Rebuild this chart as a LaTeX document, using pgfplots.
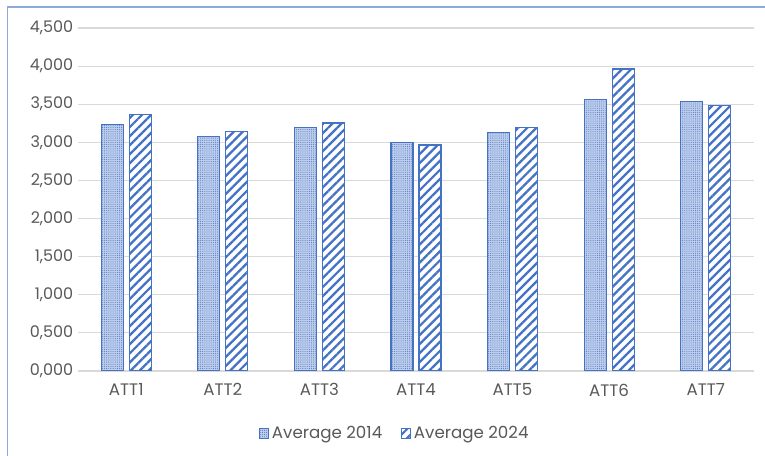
\documentclass[border=0pt]{standalone}
\usepackage{pgfplots}
\pgfplotsset{compat=1.18}
\usepackage{fontspec}
\setmainfont{Poppins}
\usetikzlibrary{patterns,patterns.meta}
\definecolor{barblue}{HTML}{4472C4}
\definecolor{dotblue}{HTML}{8FAADC}
\definecolor{gridgray}{HTML}{D9D9D9}
\definecolor{txtgray}{HTML}{595959}
\definecolor{frameblue}{HTML}{8EA9DB}
\begin{document}
\begin{tikzpicture}[x=0.75pt,y=0.75pt]
\useasboundingbox (0,0) rectangle (765,456);
\draw[frameblue, line width=1.2pt] (7.5,0) -- (7.5,449) -- (765,449);
\begin{axis}[
  at={(58.5pt,63.75pt)}, anchor=south west,
  scale only axis, width=507pt, height=257.25pt,
  ymin=0, ymax=4.5, xmin=-0.5, xmax=6.5,
  ybar=4.5pt, bar width=16.5pt,
  axis line style={draw=none},
  axis x line*=bottom,
  ytick={0,0.5,...,4.5},
  xtick={0,...,6},
  xticklabels={ATT1,ATT2,ATT3,ATT4,ATT5,ATT6,ATT7},
  major tick length=0pt,
  ymajorgrids, grid style={gridgray, line width=0.8pt},
  extra y ticks={0}, extra y tick style={grid style={gridgray,line width=0.9pt}, yticklabels={}},
  tick label style={text=txtgray},
  yticklabel style={font=\fontsize{12}{14}\selectfont, /pgf/number format/.cd, fixed, fixed zerofill, precision=3, use comma, assume math mode=true},
  xticklabel style={font=\fontsize{12.5}{14}\selectfont},
  yticklabel shift=0pt,
  xticklabel shift=6pt,
  legend style={at={(0.469,-0.145)}, anchor=north, draw=none, legend columns=2,
    font=\fontsize{12.5}{14}\selectfont, text=txtgray,
    /tikz/every even column/.append style={column sep=12pt}},
  legend image code/.code={\draw[#1] (0pt,-3.5pt) rectangle (7pt,3.5pt);},
]
\addplot[draw=barblue, line width=0.8pt, fill=dotblue!60, postaction={pattern={Dots[radius=0.35pt, distance=1.6pt]}, pattern color=barblue}]
 coordinates {(0,3.236) (1,3.077) (2,3.190) (3,2.995) (4,3.128) (5,3.565) (6,3.531)};
\addplot[draw=barblue, line width=0.8pt, fill=white, postaction={pattern={Lines[angle=45, distance=4.8pt, line width=1.7pt]}, pattern color=barblue}]
 coordinates {(0,3.370) (1,3.146) (2,3.254) (3,2.965) (4,3.190) (5,3.962) (6,3.483)};
\legend{Average 2014, Average 2024}
\end{axis}
\end{tikzpicture}
\end{document}
